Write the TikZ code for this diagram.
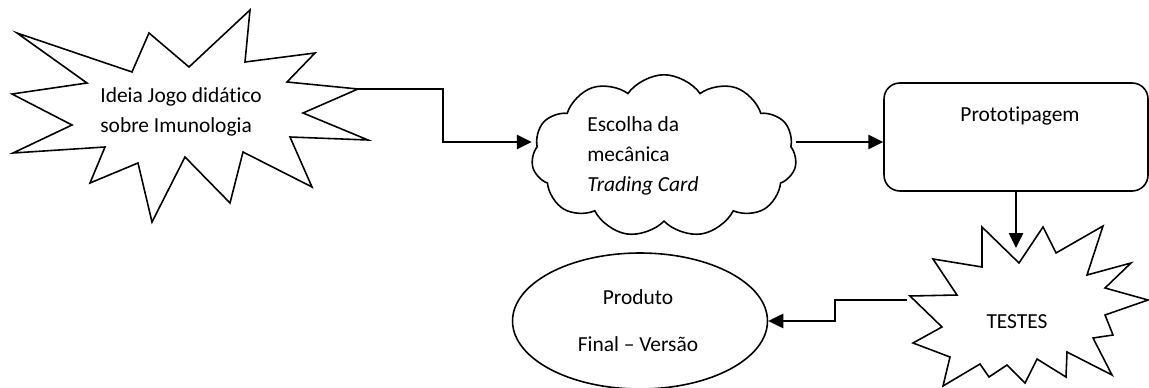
\documentclass[tikz,border=0pt]{standalone}
\usepackage{fontspec}
\setmainfont{Carlito}[Ligatures=NoCommon]
\usepackage{tikz}
\usetikzlibrary{shapes}
\usetikzlibrary{shapes.symbols}
\usetikzlibrary{positioning}
\usetikzlibrary{arrows.meta}
\tikzset{
    burst/.style = {line width=0.9pt, draw=black, line join=miter},
    nuvem/.style = {cloud, cloud puffs=11, cloud puff arc=110, line width=0.9pt, draw=black, minimum width=5.3cm, minimum height=3.25cm},
    caixa/.style = {rectangle, rounded corners=9pt, line width=0.9pt, draw=black, minimum width=5.28cm, minimum height=2.16cm},
    elipse/.style = {ellipse, line width=0.9pt, draw=black, minimum width=5.1cm, minimum height=2.72cm},
    texto/.style = {inner sep=0pt, font=\fontsize{12.2}{17}\selectfont},
    edgen/.style = {-{Triangle[length=0.3cm,width=0.28cm]}, line width=1.5pt},
}

\begin{document}
\begin{tikzpicture}[x=0.02cm, y=-0.02cm]
\useasboundingbox (0,0) rectangle (1149,388);
% ideia
\draw[burst] (250,10) -- (245,62) -- (315,53) -- (287,82) -- (358,89) -- (303,113) -- (368,140) -- (290,137) -- (312,187) -- (243,152) -- (230,203) -- (185,157) -- (152,222) -- (138,163) -- (90,183) -- (105,147) -- (13,153) -- (72,125) -- (12,94) -- (87,83) -- (17,33) -- (132,72) -- (149,33) -- (189,67) -- cycle;
\coordinate (ideia-out) at (358,89);
\node[texto, align=left, anchor=west] at (100,112) (ideia) {Ideia Jogo didático\\sobre Imunologia};
% escolha
\node[nuvem] at (664,156) (escolha) {};
\node[texto, align=left, anchor=west] at (587,156) (escolhatxt) {Escolha da\\mecânica\\\textit{Trading Card}};
% prototipagem
\node[caixa] at (1016,137) (proto) {};
\node[texto] at (1020,116) (prototxt) {Prototipagem};
% testes
\draw[burst] (982,227) -- (1019,263) -- (1043,227) -- (1056,253) -- (1103,226) -- (1087,275) -- (1131,263) -- (1105,288) -- (1148,300) -- (1105,315) -- (1113,335) -- (1093,338) -- (1112,375) -- (1067,352) -- (1066,377) -- (1037,359) -- (1025,383) -- (1007,365) -- (989,377) -- (980,364) -- (943,386) -- (950,357) -- (913,343) -- (942,327) -- (910,296) -- (957,295) -- (933,259) -- (982,267) -- cycle;
\coordinate (testes-in) at (1016,248);
\coordinate (testes-out) at (907,300);
\node[texto] at (1017,322) (testes) {TESTES};
% produto
\node[elipse] at (640,321) (prod) {};
\node[texto, align=center] at (638,321) (prodtxt) {Produto\\[0.34cm]Final – Versão};
%
\draw[edgen] (ideia-out) -- ++(85,0) |- ([yshift=0.28cm]escolha.west);
\draw[edgen] ([yshift=0.28cm]escolha.east) -- ([yshift=0.28cm]escolha.east -| proto.west);
\draw[edgen] (proto.south) -- (testes-in);
\draw[edgen] (testes-out) -- ++(-72,0) |- (prod.east);
\end{tikzpicture}
\end{document}
